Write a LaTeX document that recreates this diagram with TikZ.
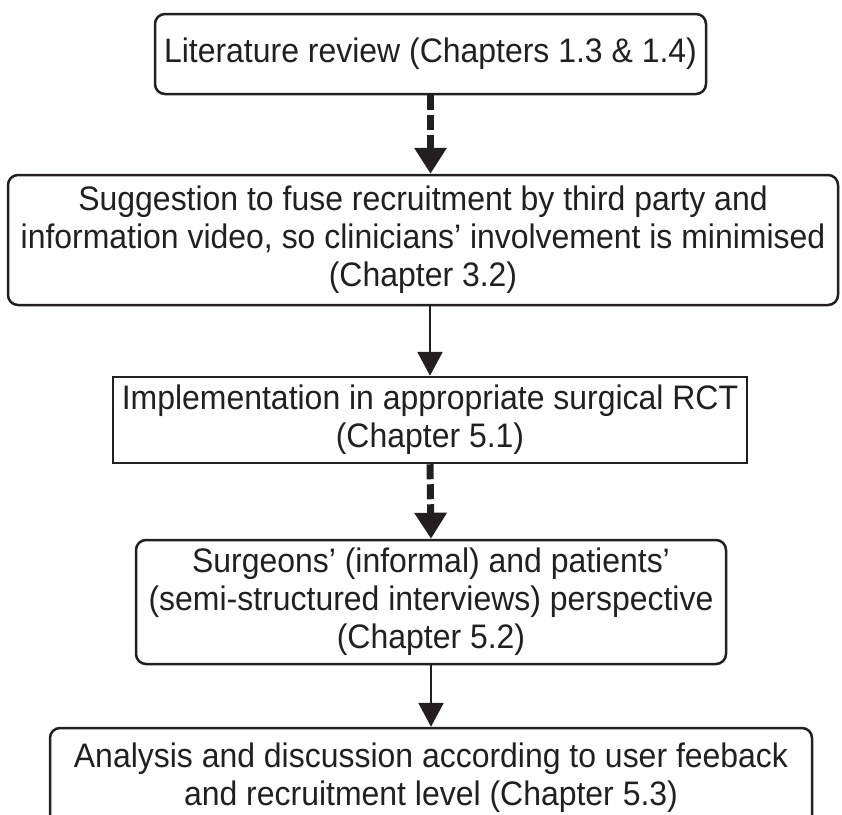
\documentclass[tikz,border=0pt]{standalone}
\usepackage{fontspec}
\setmainfont[FakeStretch=0.94]{Liberation Sans}
\usepackage{tikz}
\usetikzlibrary{arrows.meta}
\definecolor{ink}{RGB}{35,31,32}

\begin{document}
\begin{tikzpicture}[x=1pt,y=-1pt,
    every node/.style={font=\fontsize{34}{38}\selectfont, text=ink, align=center, inner sep=0pt},
    roundbox/.style={draw=ink, line width=2.5pt, rounded corners=10pt},
    sharpbox/.style={draw=ink, line width=2.5pt},
    thinarrow/.style={draw=ink, line width=2.5pt, -{Triangle[length=24pt,width=25pt]}},
    dasharrow/.style={draw=ink, line width=7pt, dash pattern=on 15pt off 5pt, -{Triangle[length=26pt,width=31pt]}}]
    \useasboundingbox (0,0) rectangle (842,814);
    \node[roundbox, minimum width=551pt, minimum height=80pt] (lit) at (430.5,54) {Literature review (Chapters 1.3 \& 1.4)};
    \node[roundbox, minimum width=830pt, minimum height=130pt] (fuse) at (423,240) {Suggestion to fuse recruitment by third party and\\information video, so clinicians’ involvement is minimised\\(Chapter 3.2)};
    \node[sharpbox, minimum width=634pt, minimum height=86pt] (rct) at (430,420) {Implementation in appropriate surgical RCT\\(Chapter 5.1)};
    \node[roundbox, minimum width=590pt, minimum height=124pt] (views) at (431,602) {Surgeons’ (informal) and patients’\\(semi-structured interviews) perspective\\(Chapter 5.2)};
    \node[roundbox, minimum width=762pt, minimum height=100pt] (analysis) at (431,778) {Analysis and discussion according to user feeback\\and recruitment level (Chapter 5.3)};
    \path[dasharrow] (lit.south) -- (lit.south |- fuse.north);
    \path[thinarrow] (rct.north |- fuse.south) -- (rct.north);
    \path[dasharrow] (rct.south) -- (views.north);
    \path[thinarrow] (views.south) -- (analysis.north);
\end{tikzpicture}
\end{document}
